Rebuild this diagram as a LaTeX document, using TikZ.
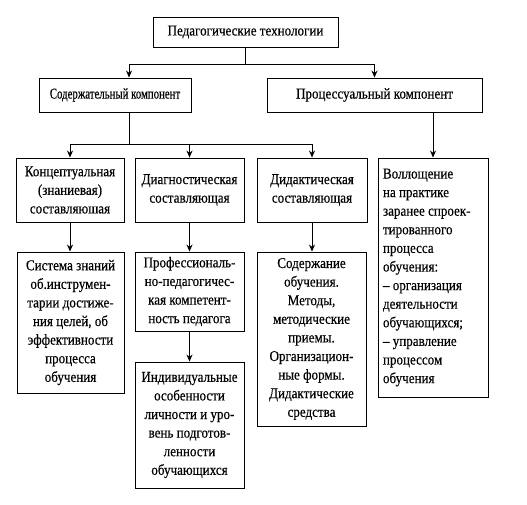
\documentclass[tikz,border=0pt]{standalone}
\usepackage{fontspec}
\setmainfont{Liberation Serif}[FakeStretch=0.87,FakeBold=0.4]
\newfontfamily\narrowserif{Liberation Serif}[FakeStretch=0.72,FakeBold=0.4]
\usetikzlibrary{arrows.meta}

\begin{document}
\begin{tikzpicture}[x=1pt, y=-1pt, line width=0.9pt,
                    >={Stealth[length=7pt,width=6pt]},
                    every node/.style={font=\fontsize{15}{18.6}\selectfont},
                    box/.style={draw, align=center, inner sep=2pt}]
\useasboundingbox (0,0) rectangle (527,504);

\node[box, minimum width=185pt, minimum height=30pt] (ped) at (245.5,32) {Педагогические технологии};
\node[box, minimum width=152pt, minimum height=34pt, font=\narrowserif\fontsize{15}{18.6}\selectfont] (sod) at (115,95) {Содержательный компонент};
\node[box, minimum width=215pt, minimum height=34pt] (proc) at (374.5,95) {Процессуальный компонент};

\node[box, minimum width=108pt, minimum height=64pt] (konc) at (70,190) {Концептуальная\\(знаниевая)\\составляюшая};
\node[box, minimum width=109pt, minimum height=64pt] (diag) at (189.5,190) {Диагностическая\\составляющая};
\node[box, minimum width=110pt, minimum height=64pt] (did) at (312,190) {Дидактическая\\составляющая};
\node[box, minimum width=110pt, minimum height=239pt, text width=100pt, inner xsep=5pt, align=flush left] (vopl) at (433,277.5)
  {Воллощение\\на практике\\заранее спроек-\\тированного\\процесса\\обучения:\\-- организация\\деятельности\\обучающихся;\\-- управление\\процессом\\обучения};

\node[box, minimum width=107pt, minimum height=141pt] (sist) at (70.5,322.5) {Система знаний\\об.инструмен-\\тарии достиже-\\ния целей, об\\эффективности\\процесса\\обучения};
\node[box, minimum width=109pt, minimum height=79pt] (prof) at (189.5,291.5) {Профессиональ-\\но-педагогичес-\\кая компетент-\\ность педагога};
\node[box, minimum width=109pt, minimum height=174pt] (sod2) at (311.5,339) {Содержание\\обучения.\\Методы,\\методические\\приемы.\\Организацион-\\ные формы.\\Дидактические\\средства};
\node[box, minimum width=109pt, minimum height=126pt] (indiv) at (189.5,425) {Индивидуальные\\особенности\\личности и уро-\\вень подготов-\\ленности\\обучающихся};

% top level
\draw[->] (ped.south) -- ++(0,17) coordinate (tj) -| ([xshift=14pt]sod.north);
\draw[->] (tj) -| (proc.north);

% content branch
\draw ([xshift=14pt]sod.south) -- ++(0,32) coordinate (sj);
\draw[->] (sj) -| (konc.north);
\draw[->] (sj) -| (diag.north);
\draw[->] (sj) -| (did.north);
\draw[->] (proc.south -| vopl.north) -- (vopl.north);

\draw[->] (konc.south) -- (konc.south |- sist.north);
\draw[->] (diag.south) -- (diag.south |- prof.north);
\draw[->] (did.south) -- (did.south |- sod2.north);
\draw[->] (prof.south) -- (prof.south |- indiv.north);
\end{tikzpicture}
\end{document}
